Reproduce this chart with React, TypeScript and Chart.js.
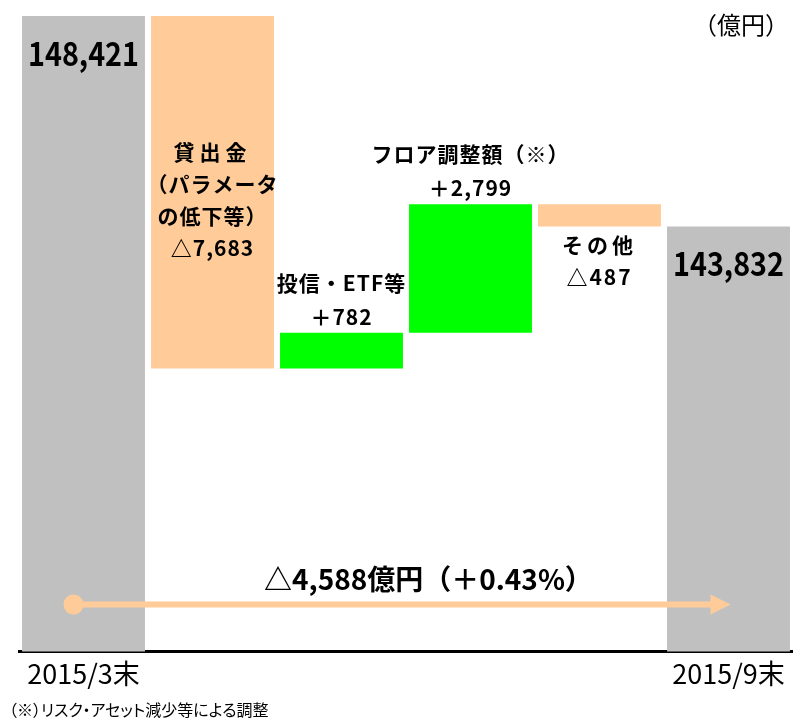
import React, { useEffect, useRef } from 'react';
import { Chart, registerables } from 'chart.js';

Chart.register(...registerables);

// ---- data ----
const categories = ['2015/3末', '貸出金', '投信・ETF等', 'フロア調整額', 'その他', '2015/9末'];
const tickLabels = ['2015/3末', '', '', '', '', '2015/9末'];
const startValue = 148421;
const changeValues = [-7683, 782, 2799, -487];
const endValue = 143832;
const barLabels: string[][] = [
  ['148,421'],
  ['貸出金', '（パラメータ', 'の低下等）', '△7,683'],
  ['投信・ETF等', '＋782'],
  ['フロア調整額（※）', '＋2,799'],
  ['その他', '△487'],
  ['143,832'],
];
const summaryLabel = '△4,588億円（＋0.43%）';
const unitLabel = '（億円）';
const footnote = '（※）リスク・アセット減少等による調整';
const yMin = 134570;
const yMax = 148770;

// ---- styles ----
const GRAY = '#C0C0C0';
const ORANGE = '#FFCC99';
const GREEN = '#00FF00';
const JP = "'Noto Sans CJK JP', sans-serif";

Chart.defaults.font.family = JP;

function buildData() {
  const data: (number | [number, number])[] = [startValue];
  const colors: string[] = [GRAY];
  let running = startValue;
  changeValues.forEach((c) => {
    data.push([running, running + c]);
    colors.push(c < 0 ? ORANGE : GREEN);
    running += c;
  });
  data.push(endValue);
  colors.push(GRAY);
  return { data, colors };
}

const labelPlugin = {
  id: 'waterfallLabels',
  afterDatasetsDraw(chart: any) {
    const { ctx, chartArea } = chart;
    const meta = chart.getDatasetMeta(0);
    const els = meta.data;
    ctx.save();
    ctx.fillStyle = '#000';
    ctx.textAlign = 'center';
    ctx.textBaseline = 'middle';

    els.forEach((el: any, i: number) => {
      const top = Math.min(el.y, el.base);
      const bottom = Math.max(el.y, el.base);
      const lines = barLabels[i];
      const x = el.x;
      if (i === 0 || i === els.length - 1) {
        ctx.save();
        ctx.font = `bold 33px ${JP}`;
        (ctx as any).letterSpacing = '0px';
        ctx.translate(x, top + 37);
        ctx.scale(0.87, 1);
        ctx.fillText(lines[0], 0, 0);
        ctx.restore();
      } else if (i === 1) {
        ctx.font = `bold 21px ${JP}`;
        const lh = 32;
        const mid = (top + bottom) / 2 + 8;
        lines.forEach((t, k) => {
          (ctx as any).letterSpacing = k === 0 ? '5px' : '1px';
          ctx.fillText(t, x, mid - ((lines.length - 1) / 2) * lh + k * lh);
        });
      } else if (i === 2 || i === 3) {
        ctx.font = `bold 21px ${JP}`;
        const lh = 34;
        lines.forEach((t, k) => {
          (ctx as any).letterSpacing = '1px';
          ctx.fillText(t, x, top - 16 - (lines.length - 1 - k) * lh);
        });
      } else {
        ctx.font = `bold 21px ${JP}`;
        const lh = 32;
        lines.forEach((t, k) => {
          (ctx as any).letterSpacing = k === 0 ? '4px' : '2px';
          ctx.fillText(t, x, bottom + 18 + k * lh);
        });
      }
    });

    // arrow
    (ctx as any).letterSpacing = '0px';
    const ay = chartArea.bottom - 47;
    const x0 = els[0].x - 10;
    const x1 = els[els.length - 1].x + 2;
    ctx.strokeStyle = ORANGE;
    ctx.fillStyle = ORANGE;
    ctx.lineWidth = 6;
    ctx.beginPath();
    ctx.moveTo(x0, ay);
    ctx.lineTo(x1 - 18, ay);
    ctx.stroke();
    ctx.beginPath();
    ctx.arc(x0, ay, 10, 0, Math.PI * 2);
    ctx.fill();
    ctx.beginPath();
    ctx.moveTo(x1, ay);
    ctx.lineTo(x1 - 20, ay - 10);
    ctx.lineTo(x1 - 20, ay + 10);
    ctx.closePath();
    ctx.fill();

    // summary text
    ctx.fillStyle = '#000';
    ctx.font = `bold 28px ${JP}`;
    ctx.fillText(summaryLabel, chartArea.left + chartArea.width * 0.529, chartArea.bottom - 72);

    // unit
    ctx.font = `24px ${JP}`;
    ctx.textAlign = 'right';
    ctx.fillText(unitLabel, chartArea.right - 4, 25);
    ctx.restore();
  },
};

export default function App() {
  const ref = useRef<HTMLCanvasElement>(null);
  useEffect(() => {
    if (!ref.current) return;
    const { data, colors } = buildData();
    const chart = new Chart(ref.current, {
      type: 'bar',
      data: {
        labels: categories,
        datasets: [
          {
            data: data as any,
            backgroundColor: colors,
            borderWidth: 0,
            categoryPercentage: 1,
            barPercentage: 0.953,
          },
        ],
      },
      options: {
        responsive: false,
        animation: false,
        devicePixelRatio: 1,
        layout: { padding: { left: 19, right: 0, top: 0, bottom: 27 } },
        plugins: { legend: { display: false }, tooltip: { enabled: false }, title: { display: false } },
        scales: {
          x: {
            z: 1,
            grid: { display: false, drawTicks: false },
            border: { display: true, color: '#000', width: 3 },
            ticks: {
              color: '#000',
              font: { family: JP, size: 27, weight: 'normal' },
              padding: 6,
              maxRotation: 0,
              autoSkip: false,
              callback: (_v: any, i: number) => tickLabels[i],
            },
          },
          y: {
            display: false,
            min: yMin,
            max: yMax,
          },
        },
      },
      plugins: [labelPlugin],
    });
    return () => chart.destroy();
  }, []);

  return (
    <div style={{ position: 'absolute', left: 0, top: 0, width: 793, height: 723, background: '#fff' }}>
      <canvas ref={ref} width={793} height={723} style={{ display: 'block' }} />
      <div
        style={{
          position: 'absolute',
          left: 9,
          top: 697,
          fontSize: 16,
          lineHeight: '24px',
          fontFamily: JP,
          fontFeatureSettings: '"palt"',
          color: '#000',
          whiteSpace: 'nowrap',
        }}
      >
        {footnote}
      </div>
    </div>
  );
}
